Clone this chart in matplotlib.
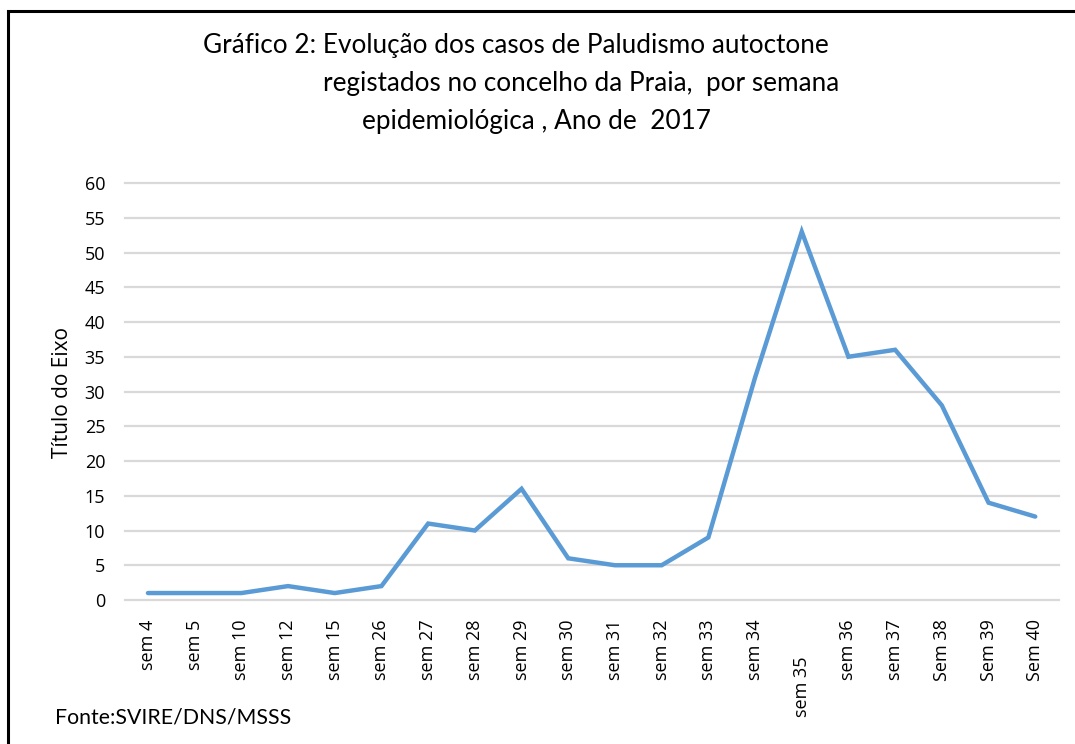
import numpy as np
import matplotlib.pyplot as plt
from matplotlib.patches import Rectangle

# dados
semanas = ['sem 4', 'sem 5', 'sem 10', 'sem 12', 'sem 15', 'sem 26', 'sem 27',
           'sem 28', 'sem 29', 'sem 30', 'sem 31', 'sem 32', 'sem 33', 'sem 34',
           'sem 35\u00a0\u00a0\u00a0\u00a0\u00a0\u00a0\u00a0\u00a0', 'sem 36', 'sem 37',
           'Sem 38', 'Sem 39', 'Sem 40']
casos = [1, 1, 1, 2, 1, 2, 11, 10, 16, 6, 5, 5, 9, 32, 53, 35, 36, 28, 14, 12]
yticks = list(range(0, 61, 5))

W, H = 1075, 744
fig = plt.figure(figsize=(W / 100, H / 100), dpi=100)
fig.patch.set_facecolor('white')

# moldura (só esquerda e topo visíveis, resto cortado)
fig.patches.append(Rectangle((8 / W, -0.05), 1.1, 1.05 - 11 / H,
                             transform=fig.transFigure, fill=False,
                             edgecolor='black', linewidth=2.2))

ax = fig.add_axes([124.6 / W, 144 / H, 934 / W, 417 / H])
x = np.arange(len(semanas))
ax.plot(x, casos, color='#5b9bd5', linewidth=3.2, solid_joinstyle='miter',
        solid_capstyle='round', zorder=3)

ax.set_xlim(-0.5, len(semanas) - 0.5)
ax.set_ylim(0, 60)
ax.set_yticks(yticks)
ax.set_yticklabels([str(v) for v in yticks], fontsize=13, family='Open Sans')
ax.set_xticks(x)
ax.set_xticklabels(semanas, rotation=90, fontsize=13, family='Open Sans')
ax.tick_params(length=0)
ax.tick_params(axis='y', pad=14)
ax.tick_params(axis='x', pad=14)
ax.grid(axis='y', color='#d9d9d9', linewidth=1.6)
for gl in ax.get_ygridlines():
    gl.set_clip_on(False)
ax.set_axisbelow(True)
for s in ax.spines.values():
    s.set_visible(False)

fig.text(63 / W, 1 - 393 / H, 'Título do Eixo', rotation=90, fontsize=15,
         family='Open Sans', ha='center', va='center')

tf = ['Liberation Sans Narrow', 'Lato']
fig.text(203 / W, 1 - 45 / H, 'Gráfico 2: Evolução dos casos de Paludismo autoctone',
         fontsize=18.8, family=tf, ha='left', va='center')
fig.text(323 / W, 1 - 83 / H, 'registados no concelho da Praia,  por semana',
         fontsize=18.8, family=tf, ha='left', va='center')
fig.text(362 / W, 1 - 122 / H, 'epidemiológica , Ano de  2017',
         fontsize=18.8, family=tf, ha='left', va='center')
fig.text(55 / W, 1 - 718 / H, 'Fonte:SVIRE/DNS/MSSS', fontsize=15.3, family=tf,
         ha='left', va='center')

fig.savefig('out.png', dpi=100)
